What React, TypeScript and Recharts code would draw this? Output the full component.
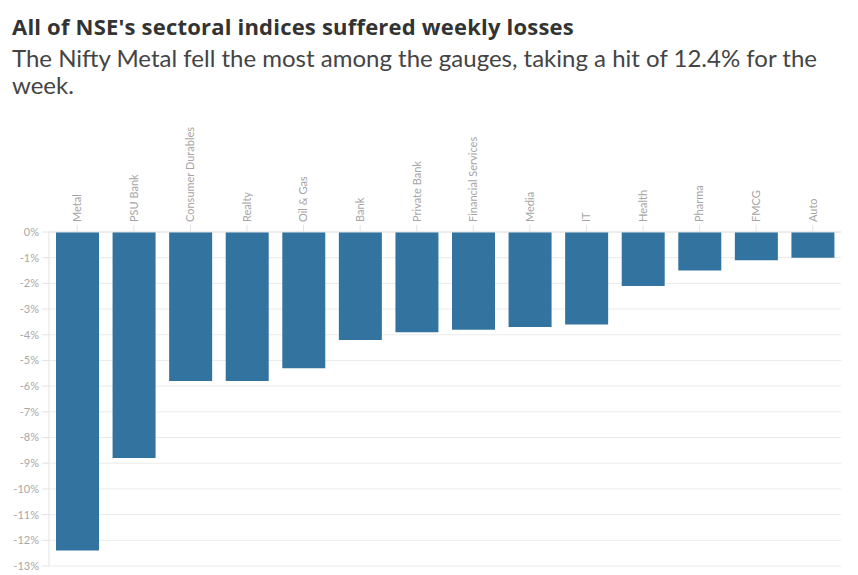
import { BarChart, Bar, XAxis, YAxis, CartesianGrid } from 'recharts';

const SECTORS = ['Metal', 'PSU Bank', 'Consumer Durables', 'Realty', 'Oil & Gas', 'Bank', 'Private Bank', 'Financial Services', 'Media', 'IT', 'Health', 'Pharma', 'FMCG', 'Auto'];
const WEEKLY_CHANGE = [-12.4, -8.8, -5.8, -5.8, -5.3, -4.2, -3.9, -3.8, -3.7, -3.6, -2.1, -1.5, -1.1, -1.0];
const Y_TICKS = [0, -1, -2, -3, -4, -5, -6, -7, -8, -9, -10, -11, -12, -13];

const data = SECTORS.map((name, i) => ({ name, value: WEEKLY_CHANGE[i] }));

const FONT = 'Lato, "Noto Sans", sans-serif';

function SectorTick({ x, y, payload }: any) {
  return (
    <text
      transform={`translate(${x},${y}) rotate(-90)`}
      textAnchor="start"
      dy="0.35em"
      fontSize={11}
      fill="#a5a5a5"
      fontFamily={FONT}
    >
      {payload.value}
    </text>
  );
}

export default function App() {
  return (
    <div style={{ position: 'absolute', left: 0, top: 0, width: 858, height: 575, background: '#fff', fontFamily: FONT }}>
      <div style={{ position: 'absolute', left: 12, top: 11, fontFamily: '"Open Sans", sans-serif', fontSize: 22, fontWeight: 700, letterSpacing: 0.2, color: '#333', whiteSpace: 'nowrap' }}>
        All of NSE's sectoral indices suffered weekly losses
      </div>
      <div style={{ position: 'absolute', left: 12, top: 44, width: 830, fontSize: 24, lineHeight: '27px', color: '#444' }}>
        The Nifty Metal fell the most among the gauges, taking a hit of 12.4% for the week.
      </div>
      <div style={{ position: 'absolute', left: 0, top: 110 }}>
        <BarChart width={858} height={465} data={data} margin={{ top: 0, right: 17, bottom: 9, left: 0 }}>
          <CartesianGrid vertical={false} stroke="#ebebeb" />
          <XAxis
            dataKey="name"
            orientation="top"
            interval={0}
            height={122}
            tick={<SectorTick />}
            tickSize={7}
            tickMargin={3}
            axisLine={{ stroke: '#e3e3e3' }}
            tickLine={{ stroke: '#e3e3e3' }}
          />
          <YAxis
            domain={[-13, 0]}
            ticks={Y_TICKS}
            interval={0}
            width={49}
            tickFormatter={(v) => `${v}%`}
            tick={{ fontSize: 11, fill: '#a8a8a8', fontFamily: FONT }}
            tickSize={7}
            tickMargin={3}
            axisLine={{ stroke: '#e3e3e3' }}
            tickLine={{ stroke: '#e3e3e3' }}
          />
          <Bar dataKey="value" fill="#33739f" barSize={43} isAnimationActive={false} />
        </BarChart>
      </div>
    </div>
  );
}
